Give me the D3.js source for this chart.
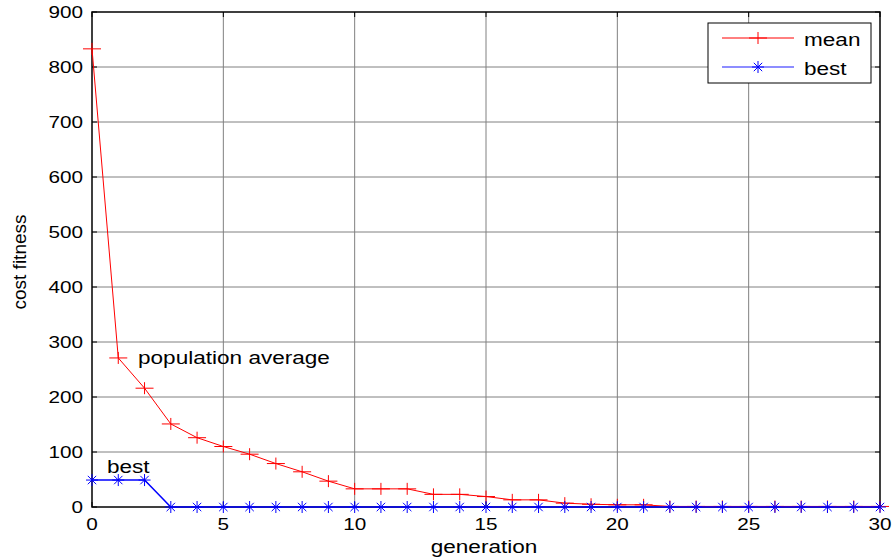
<!DOCTYPE html>
<html>
<head>
<meta charset="utf-8">
<script src="https://cdn.jsdelivr.net/npm/d3@7"></script>
<style>
  body { margin: 0; background: #fff; }
  text { font-family: "Liberation Sans", Arial, sans-serif; fill: #000; }
</style>
</head>
<body>
<div id="graph"></div>
<script>
// generations 0..30
var generations = d3.range(0, 31);
var meanCost = [833, 271, 216, 151, 126, 110, 96, 79, 64, 47, 33, 33, 33, 23, 23, 19,
                13, 13, 7, 5, 4, 4, 1, 1, 1, 1, 1, 1, 1, 1, 1];
var bestCost = [49, 49, 49, 0, 0, 0, 0, 0, 0, 0, 0, 0, 0, 0, 0, 0,
                0, 0, 0, 0, 0, 0, 0, 0, 0, 0, 0, 0, 0, 0, 0];
var xTicks = [0, 5, 10, 15, 20, 25, 30];
var yTicks = [0, 100, 200, 300, 400, 500, 600, 700, 800, 900];

var width = 895, height = 560;
var pLeft = 92, pRight = 880, pTop = 12, pBottom = 507;
var sx = 1.22; // horizontal stretch of the text in the picture

var xscale = d3.scaleLinear().domain([0, 30]).range([pLeft, pRight]);
var yscale = d3.scaleLinear().domain([0, 900]).range([pBottom, pTop]);

var svg = d3.select("#graph").append("svg")
  .attr("width", width)
  .attr("height", height);

function label(g, x, y, txt, size, anchor) {
  return g.append("text")
    .attr("transform", "translate(" + x + "," + y + ") scale(" + sx + ",1)")
    .attr("text-anchor", anchor || "start")
    .attr("font-size", size)
    .text(txt);
}

// grid
svg.append("g").selectAll("line")
  .data(xTicks.slice(1, -1))
  .enter().append("line")
  .attr("x1", function(d) { return xscale(d); })
  .attr("x2", function(d) { return xscale(d); })
  .attr("y1", pTop).attr("y2", pBottom)
  .attr("stroke", "#808080").attr("stroke-width", 1);
svg.append("g").selectAll("line")
  .data(yTicks.slice(1, -1))
  .enter().append("line")
  .attr("x1", pLeft).attr("x2", pRight)
  .attr("y1", function(d) { return yscale(d); })
  .attr("y2", function(d) { return yscale(d); })
  .attr("stroke", "#808080").attr("stroke-width", 1);

// inner ticks on all four sides
var tk = svg.append("g").attr("stroke", "#000").attr("stroke-width", 1);
xTicks.forEach(function(d) {
  tk.append("line").attr("x1", xscale(d)).attr("x2", xscale(d)).attr("y1", pBottom).attr("y2", pBottom - 5);
  tk.append("line").attr("x1", xscale(d)).attr("x2", xscale(d)).attr("y1", pTop).attr("y2", pTop + 5);
});
yTicks.forEach(function(d) {
  tk.append("line").attr("x1", pLeft).attr("x2", pLeft + 5).attr("y1", yscale(d)).attr("y2", yscale(d));
  tk.append("line").attr("x1", pRight).attr("x2", pRight - 5).attr("y1", yscale(d)).attr("y2", yscale(d));
});

// frame
svg.append("rect")
  .attr("x", pLeft).attr("y", pTop)
  .attr("width", pRight - pLeft).attr("height", pBottom - pTop)
  .attr("fill", "none").attr("stroke", "#000").attr("stroke-width", 1.5);

// tick labels
xTicks.forEach(function(d) {
  label(svg, xscale(d), 530, d, 17, "middle");
});
yTicks.forEach(function(d) {
  label(svg, 83, yscale(d) + 6, d, 17, "end");
});

// axis titles
label(svg, 484, 553, "generation", 18.5, "middle");
svg.append("text")
  .attr("transform", "translate(26,262) rotate(-90)")
  .attr("text-anchor", "middle")
  .attr("font-size", 19)
  .text("cost fitness");

// lines
var line = d3.line()
  .x(function(d) { return xscale(d[0]); })
  .y(function(d) { return yscale(d[1]); });

var meanPts = generations.map(function(g, i) { return [g, meanCost[i]]; });
var bestPts = generations.map(function(g, i) { return [g, bestCost[i]]; });

function plusMarker(g, x, y, color) {
  g.append("line").attr("x1", x - 9).attr("x2", x + 9).attr("y1", y).attr("y2", y)
    .attr("stroke", color).attr("stroke-width", 1);
  g.append("line").attr("x1", x).attr("x2", x).attr("y1", y - 6).attr("y2", y + 6)
    .attr("stroke", color).attr("stroke-width", 1);
}
function starMarker(g, x, y, color) {
  var r = 6;
  [[r, 0], [0, r], [r * 0.7, r * 0.7], [r * 0.7, -r * 0.7]].forEach(function(v) {
    g.append("line").attr("x1", x - v[0]).attr("x2", x + v[0])
      .attr("y1", y - v[1]).attr("y2", y + v[1])
      .attr("stroke", color).attr("stroke-width", 1);
  });
}

var gm = svg.append("g");
gm.append("path").datum(meanPts).attr("d", line)
  .attr("fill", "none").attr("stroke", "#ff0000").attr("stroke-width", 1);
meanPts.forEach(function(p) { plusMarker(gm, xscale(p[0]), yscale(p[1]), "#ff0000"); });

var gb = svg.append("g");
gb.append("path").datum(bestPts).attr("d", line)
  .attr("fill", "none").attr("stroke", "#0000ff").attr("stroke-width", 1.5);
bestPts.forEach(function(p) { starMarker(gb, xscale(p[0]), yscale(p[1]), "#0000ff"); });

// annotations
label(svg, 138, 364, "population average", 18.5);
label(svg, 107, 473, "best", 18.5);

// legend
var lg = svg.append("g");
lg.append("rect").attr("x", 708).attr("y", 23).attr("width", 163).attr("height", 60)
  .attr("fill", "#fff").attr("stroke", "#000").attr("stroke-width", 1);
lg.append("line").attr("x1", 722).attr("x2", 794).attr("y1", 38).attr("y2", 38)
  .attr("stroke", "#ff0000");
plusMarker(lg, 758, 38, "#ff0000");
lg.append("line").attr("x1", 722).attr("x2", 794).attr("y1", 67).attr("y2", 67)
  .attr("stroke", "#0000ff").attr("stroke-opacity", 0.6).attr("stroke-width", 1.5);
starMarker(lg, 758, 67, "#0000ff");
label(lg, 804, 46, "mean", 18.5);
label(lg, 804, 75, "best", 18.5);
</script>
</body>
</html>
